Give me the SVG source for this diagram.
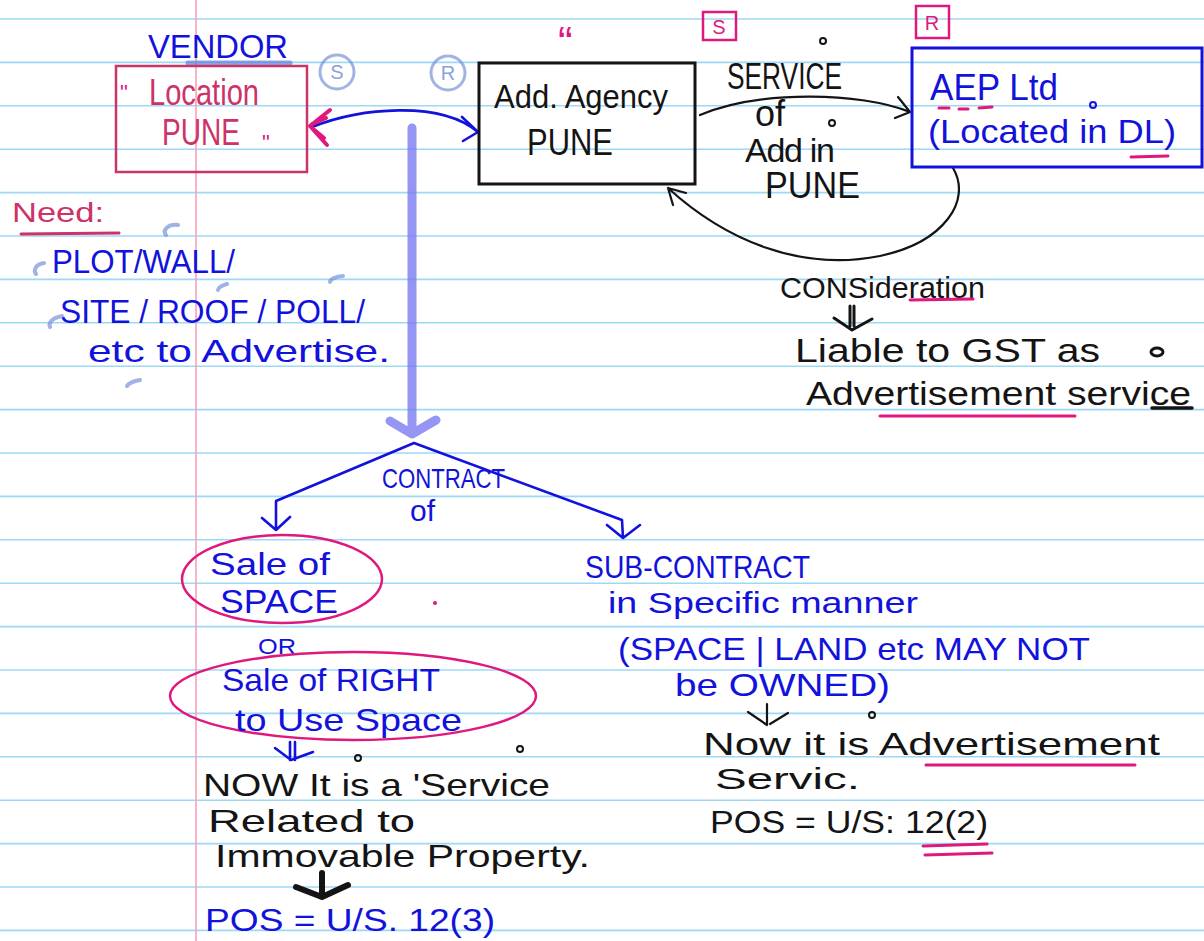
<svg xmlns="http://www.w3.org/2000/svg" width="1204" height="941" viewBox="0 0 1204 941">
<style>
.rule{stroke:#9dd8f6;stroke-width:1.6}
.t{font-family:"Liberation Sans",Arial,sans-serif}
.b{fill:#1212dc}
.k{fill:#141414}
.p{fill:#e0187e}
.bl{stroke:#1212dc;fill:none;stroke-width:2.6;stroke-linecap:round;stroke-linejoin:round}
.kl{stroke:#141414;fill:none;stroke-width:2.2;stroke-linecap:round;stroke-linejoin:round}
.pl{stroke:#e0187e;fill:none;stroke-width:3;stroke-linecap:round}
.fade{stroke:#6f8bd6;fill:none;stroke-width:4;stroke-linecap:round;opacity:.65}
.dot{fill:none;stroke:#141414;stroke-width:2}
</style>
<rect width="1204" height="941" fill="#ffffff"/>
<g id="paper">
<line class="rule" x1="0" y1="19" x2="1204" y2="19"/>
<line class="rule" x1="0" y1="62.4" x2="1204" y2="62.4"/>
<line class="rule" x1="0" y1="105.8" x2="1204" y2="105.8"/>
<line class="rule" x1="0" y1="149.2" x2="1204" y2="149.2"/>
<line class="rule" x1="0" y1="192.6" x2="1204" y2="192.6"/>
<line class="rule" x1="0" y1="236" x2="1204" y2="236"/>
<line class="rule" x1="0" y1="279.4" x2="1204" y2="279.4"/>
<line class="rule" x1="0" y1="322.8" x2="1204" y2="322.8"/>
<line class="rule" x1="0" y1="366.2" x2="1204" y2="366.2"/>
<line class="rule" x1="0" y1="409.6" x2="1204" y2="409.6"/>
<line class="rule" x1="0" y1="453" x2="1204" y2="453"/>
<line class="rule" x1="0" y1="496.4" x2="1204" y2="496.4"/>
<line class="rule" x1="0" y1="539.8" x2="1204" y2="539.8"/>
<line class="rule" x1="0" y1="583.2" x2="1204" y2="583.2"/>
<line class="rule" x1="0" y1="626.6" x2="1204" y2="626.6"/>
<line class="rule" x1="0" y1="670" x2="1204" y2="670"/>
<line class="rule" x1="0" y1="713.4" x2="1204" y2="713.4"/>
<line class="rule" x1="0" y1="756.8" x2="1204" y2="756.8"/>
<line class="rule" x1="0" y1="800.2" x2="1204" y2="800.2"/>
<line class="rule" x1="0" y1="843.6" x2="1204" y2="843.6"/>
<line class="rule" x1="0" y1="887" x2="1204" y2="887"/>
<line class="rule" x1="0" y1="930.4" x2="1204" y2="930.4"/>
<line x1="196" y1="0" x2="196" y2="941" stroke="#f7a3b8" stroke-width="1.6"/>
</g>

<g id="connectors">
<path d="M412 128 L412 430 M390 421 L412 434 L436 420" stroke="#7b7bf0" stroke-width="9" fill="none" stroke-linecap="round" stroke-linejoin="round" opacity=".8"/>
<path class="bl" d="M312 127 C360 108 440 100 478 132 M462 117 L478 132 L463 141"/>
<path d="M310 126 L330 110 M310 126 L327 145 M312 124 L326 118 M312 128 L324 138" stroke="#e0187e" stroke-width="4" fill="none" stroke-linecap="round"/>
<path class="kl" d="M700 115 C760 90 860 92 910 112 M898 97 L910 112 L895 118"/>
<path class="kl" d="M953 168 C972 200 945 242 880 256 C800 272 725 240 668 188 M668 188 L673 205 M668 188 L686 193"/>
<path class="bl" d="M276 530 L276 501 L414 443 L622 520 L623 538 M262 518 L276 530 L290 517 M607 525 L623 538 L640 525"/>
<path d="M850 306 L850 326 M854 306 L854 326 M834 318 L852 330 L872 319" stroke="#141414" stroke-width="3" fill="none" stroke-linecap="round"/>
<path class="bl" d="M290 742 L290 760 M295 742 L295 760 M275 748 L291 760 L313 752" stroke-width="2"/>
<path d="M322 873 L322 896 M296 887 L322 897 L348 885" stroke="#141414" stroke-width="6" fill="none" stroke-linecap="round" stroke-linejoin="round"/>
<path class="kl" d="M767 704 L767 725 M748 712 L767 725 M788 713 L770 724"/>
</g>

<g id="vendor">
<text class="t b" x="148" y="58" font-size="34" textLength="140" lengthAdjust="spacingAndGlyphs">VENDOR</text>
<line x1="188" y1="63" x2="290" y2="63" stroke="#4f6fd8" stroke-width="5" opacity=".6" stroke-linecap="round"/>
<rect x="116" y="66" width="191" height="106" fill="none" stroke="#cc3366" stroke-width="2.5"/>
<text class="t" x="120" y="100" font-size="22" fill="#e0187e">"</text>
<text class="t" x="149" y="105" font-size="36" fill="#cc3366" textLength="110" lengthAdjust="spacingAndGlyphs">Location</text>
<text class="t" x="162" y="145" font-size="36" fill="#cc3366" textLength="78" lengthAdjust="spacingAndGlyphs">PUNE</text>
<text class="t" x="262" y="150" font-size="22" fill="#e0187e">"</text>
<circle cx="337" cy="72" r="17" fill="none" stroke="#6f8bd6" stroke-width="3" opacity=".65"/>
<text class="t" x="337" y="79" font-size="20" text-anchor="middle" fill="#6f8bd6" opacity=".8">S</text>
</g>

<g id="agency">
<circle cx="448" cy="73" r="17" fill="none" stroke="#6f8bd6" stroke-width="3" opacity=".65"/>
<text class="t" x="448" y="80" font-size="20" text-anchor="middle" fill="#6f8bd6" opacity=".8">R</text>
<text class="t p" x="558" y="58" font-size="44">“</text>
<rect x="479" y="63" width="216" height="121" fill="none" stroke="#141414" stroke-width="3"/>
<text class="t k" x="494" y="108" font-size="34" textLength="174" lengthAdjust="spacingAndGlyphs">Add. Agency</text>
<text class="t k" x="527" y="155" font-size="36" textLength="86" lengthAdjust="spacingAndGlyphs">PUNE</text>
</g>

<g id="service-label">
<rect x="703" y="12" width="33" height="28" fill="none" stroke="#e0187e" stroke-width="2.5"/>
<text class="t p" x="719" y="34" font-size="20" text-anchor="middle">S</text>
<text class="t k" x="727" y="89" font-size="36" textLength="115" lengthAdjust="spacingAndGlyphs">SERVICE</text>
<text class="t k" x="755" y="126" font-size="36">of</text>
<text class="t k" x="745" y="162" font-size="34" textLength="90" lengthAdjust="spacing">Add in</text>
<text class="t k" x="765" y="198" font-size="36" textLength="95" lengthAdjust="spacingAndGlyphs">PUNE</text>
<circle class="dot" cx="823" cy="41" r="3"/>
<circle class="dot" cx="832" cy="123" r="3"/>
</g>

<g id="aep">
<rect x="916" y="6" width="33" height="32" fill="none" stroke="#e0187e" stroke-width="2.5"/>
<text class="t p" x="932" y="30" font-size="20" text-anchor="middle">R</text>
<rect x="912" y="48" width="290" height="119" fill="none" stroke="#1212dc" stroke-width="3"/>
<text class="t b" x="930" y="100" font-size="36" textLength="128" lengthAdjust="spacingAndGlyphs">AEP Ltd</text>
<text class="t b" x="928" y="143" font-size="34" textLength="248" lengthAdjust="spacingAndGlyphs">(Located in DL)</text>
<circle cx="1093" cy="105" r="3" fill="none" stroke="#1212dc" stroke-width="2"/>
<path class="pl" d="M939 108 L949 108 M959 109 L968 109 M979 108 L992 107 M1131 157 L1168 156"/>
</g>

<g id="consideration">
<text class="t k" x="780" y="298" font-size="30" textLength="205" lengthAdjust="spacingAndGlyphs">CONSideration</text>
<line class="pl" x1="910" y1="300" x2="973" y2="299"/>
<text class="t k" x="795" y="362" font-size="34" textLength="305" lengthAdjust="spacingAndGlyphs">Liable to GST as</text>
<ellipse cx="1157" cy="352" rx="6" ry="4" fill="none" stroke="#141414" stroke-width="3"/>
<text class="t k" x="806" y="405" font-size="34" textLength="385" lengthAdjust="spacingAndGlyphs">Advertisement service</text>
<line class="pl" x1="880" y1="416" x2="1075" y2="416"/>
<line x1="1152" y1="408" x2="1192" y2="408" stroke="#141414" stroke-width="3.5" stroke-linecap="round"/>
</g>

<g id="needs">
<text class="t" x="12" y="222" font-size="28" fill="#cc3366" textLength="92" lengthAdjust="spacingAndGlyphs">Need:</text>
<line x1="21" y1="234" x2="119" y2="233" stroke="#cc3366" stroke-width="3" stroke-linecap="round"/>
<text class="t b" x="52" y="273" font-size="34" textLength="183" lengthAdjust="spacingAndGlyphs">PLOT/WALL/</text>
<text class="t b" x="60" y="323" font-size="34" textLength="305" lengthAdjust="spacingAndGlyphs">SITE / ROOF / POLL/</text>
<text class="t b" x="88" y="362" font-size="32" textLength="302" lengthAdjust="spacingAndGlyphs">etc to Advertise.</text>
<path class="fade" d="M178 225 C168 224 162 230 166 235 M44 263 C36 264 33 270 36 274 M62 316 C52 318 48 323 50 327 M227 284 C222 285 218 288 218 290 M343 276 C335 276 330 280 330 282 M140 380 C133 381 128 384 127 386"/>
</g>

<g id="contract">
<text class="t b" x="382" y="488" font-size="28" textLength="123" lengthAdjust="spacingAndGlyphs">CONTRACT</text>
<text class="t b" x="410" y="521" font-size="30">of</text>
</g>

<g id="sale-space">
<ellipse cx="282" cy="579" rx="100" ry="44" fill="none" stroke="#e0187e" stroke-width="2.5"/>
<text class="t b" x="210" y="575" font-size="32" textLength="120" lengthAdjust="spacingAndGlyphs">Sale of</text>
<text class="t b" x="220" y="613" font-size="34" textLength="118" lengthAdjust="spacingAndGlyphs">SPACE</text>
<circle cx="435" cy="603" r="2" fill="#e0187e"/>
<text class="t b" x="258" y="654" font-size="22" textLength="38" lengthAdjust="spacingAndGlyphs">OR</text>
</g>

<g id="sale-right">
<ellipse cx="353" cy="696" rx="183" ry="44" fill="none" stroke="#e0187e" stroke-width="2.5"/>
<text class="t b" x="222" y="691" font-size="32" textLength="218" lengthAdjust="spacingAndGlyphs">Sale of RIGHT</text>
<text class="t b" x="235" y="731" font-size="32" textLength="227" lengthAdjust="spacingAndGlyphs">to Use Space</text>
</g>

<g id="immovable">
<circle class="dot" cx="358" cy="758" r="3"/>
<circle class="dot" cx="520" cy="749" r="3"/>
<text class="t k" x="203" y="796" font-size="32" textLength="347" lengthAdjust="spacingAndGlyphs">NOW It is a 'Service</text>
<text class="t k" x="208" y="832" font-size="32" textLength="207" lengthAdjust="spacingAndGlyphs">Related to</text>
<text class="t k" x="215" y="867" font-size="32" textLength="375" lengthAdjust="spacingAndGlyphs">Immovable Property.</text>
<text class="t b" x="205" y="931" font-size="32" textLength="290" lengthAdjust="spacingAndGlyphs">POS = U/S. 12(3)</text>
</g>

<g id="subcontract">
<text class="t b" x="585" y="578" font-size="32" textLength="225" lengthAdjust="spacingAndGlyphs">SUB-CONTRACT</text>
<text class="t b" x="608" y="613" font-size="30" textLength="310" lengthAdjust="spacingAndGlyphs">in Specific manner</text>
<text class="t b" x="618" y="660" font-size="32" textLength="472" lengthAdjust="spacingAndGlyphs">(SPACE | LAND etc  MAY NOT</text>
<text class="t b" x="675" y="696" font-size="32" textLength="215" lengthAdjust="spacingAndGlyphs">be OWNED)</text>
</g>

<g id="advertisement">
<circle class="dot" cx="872" cy="715" r="3"/>
<text class="t k" x="703" y="755" font-size="32" textLength="457" lengthAdjust="spacingAndGlyphs">Now it is Advertisement</text>
<line class="pl" x1="926" y1="765" x2="1135" y2="765"/>
<text class="t k" x="715" y="789" font-size="30" textLength="145" lengthAdjust="spacingAndGlyphs">Servic.</text>
<text class="t k" x="710" y="833" font-size="32" textLength="278" lengthAdjust="spacingAndGlyphs">POS = U/S: 12(2)</text>
<path class="pl" d="M923 846 L987 844 M925 855 L992 853"/>
</g>
</svg>
